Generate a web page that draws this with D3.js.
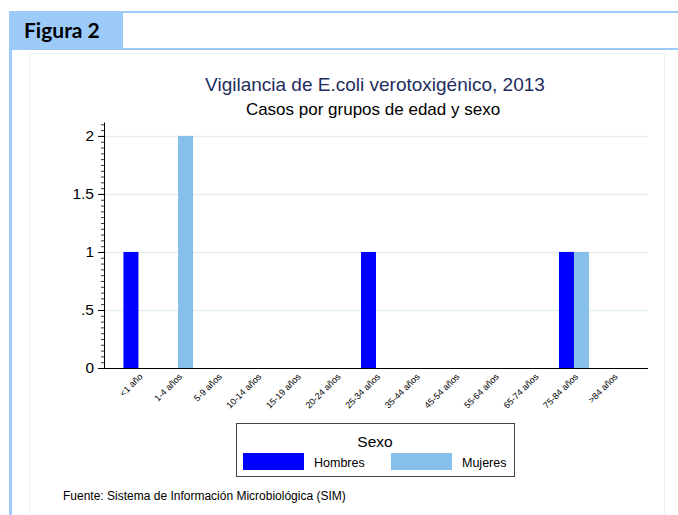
<!DOCTYPE html>
<html>
<head>
<meta charset="utf-8">
<script src="https://cdn.jsdelivr.net/npm/d3@7"></script>
<style>
  body { margin: 0; background: #fff; }
  svg { display: block; font-family: "Liberation Sans", Arial, sans-serif; }
</style>
</head>
<body>
<svg width="678" height="515"></svg>
<script>
// data
var categories = ["<1 año", "1-4 años", "5-9 años", "10-14 años", "15-19 años", "20-24 años",
  "25-34 años", "35-44 años", "45-54 años", "55-64 años", "65-74 años", "75-84 años", ">84 años"];
var series = ["Hombres", "Mujeres"];
var hombres = [1, 0, 0, 0, 0, 0, 1, 0, 0, 0, 0, 1, 0];
var mujeres = [0, 2, 0, 0, 0, 0, 0, 0, 0, 0, 0, 1, 0];
var yTicks = [0, 0.5, 1, 1.5, 2];
var yTickLabels = ["0", ".5", "1", "1.5", "2"];

var colors = { Hombres: "#0000ff", Mujeres: "#86bfea" };
var frameBlue = "#9ccbfa";

var svg = d3.select("svg");

// page frame
svg.append("rect").attr("x", 9).attr("y", 11).attr("width", 114).attr("height", 38).attr("fill", frameBlue);
svg.append("rect").attr("x", 9).attr("y", 11).attr("width", 669).attr("height", 2).attr("fill", frameBlue);
svg.append("rect").attr("x", 9).attr("y", 48).attr("width", 669).attr("height", 2).attr("fill", frameBlue);
svg.append("rect").attr("x", 9).attr("y", 11).attr("width", 3).attr("height", 504).attr("fill", frameBlue);
svg.append("text")
  .attr("x", 24).attr("y", 38)
  .style("font-family", "Lato, 'Open Sans', sans-serif")
  .style("font-weight", "bold")
  .style("font-size", "21px")
  .attr("fill", "#000")
  .text("Figura 2");

// inner panel
svg.append("rect")
  .attr("x", 29.5).attr("y", 53.5).attr("width", 635).attr("height", 470)
  .attr("fill", "#fff").attr("stroke", "#eef2f2");

// titles
svg.append("text").attr("x", 375).attr("y", 91).attr("text-anchor", "middle")
  .style("font-size", "19px").attr("fill", "#1e2d5c")
  .text("Vigilancia de E.coli verotoxigénico, 2013");
svg.append("text").attr("x", 373).attr("y", 115).attr("text-anchor", "middle")
  .style("font-size", "17px").attr("fill", "#000")
  .text("Casos por grupos de edad y sexo");

var plotLeft = 104, plotRight = 648, plotBottom = 368, plotTop = 122;

var x = d3.scalePoint().domain(categories).range([plotLeft, plotRight]).padding(0.87);
var x1 = d3.scaleBand().domain(series).range([-15, 15]);
var y = d3.scaleLinear().domain([0, 2.12]).range([plotBottom, plotTop]);

// grid
svg.append("g")
  .selectAll("line")
  .data(yTicks.slice(1))
  .enter().append("line")
  .attr("x1", plotLeft).attr("x2", plotRight)
  .attr("y1", function(d) { return y(d) + 0.5; })
  .attr("y2", function(d) { return y(d) + 0.5; })
  .attr("stroke", "#e4eef0").attr("stroke-width", 1.5);

// bars
var rows = categories.map(function(c, i) {
  return { cat: c, values: [{ key: "Hombres", v: hombres[i] }, { key: "Mujeres", v: mujeres[i] }] };
});

svg.append("g")
  .selectAll("g")
  .data(rows)
  .enter().append("g")
  .attr("transform", function(d) { return "translate(" + x(d.cat) + ",0)"; })
  .selectAll("rect")
  .data(function(d) { return d.values.filter(function(e) { return e.v > 0; }); })
  .enter().append("rect")
  .attr("x", function(d) { return x1(d.key); })
  .attr("width", x1.bandwidth())
  .attr("y", function(d) { return y(d.v); })
  .attr("height", function(d) { return y(0) - y(d.v); })
  .attr("fill", function(d) { return colors[d.key]; });

// y axis: minor then major ticks
svg.append("g")
  .attr("transform", "translate(" + plotLeft + ",0)")
  .call(d3.axisLeft(y).tickValues(d3.range(0, 2.11, 0.05)).tickSize(3).tickFormat(""))
  .call(function(g) { g.select(".domain").remove(); })
  .selectAll("line").attr("stroke", "#333");

var yAxis = svg.append("g")
  .attr("transform", "translate(" + plotLeft + ",0)")
  .call(d3.axisLeft(y).tickValues(yTicks)
    .tickFormat(function(d, i) { return yTickLabels[i]; })
    .tickSize(6).tickSizeOuter(0).tickPadding(4));
yAxis.selectAll("text").style("font-size", "15.5px").attr("fill", "#000").style("font-family", "'Liberation Sans', Arial, sans-serif");
yAxis.select(".domain").attr("stroke", "#000");

// x axis
var xAxis = svg.append("g")
  .attr("transform", "translate(0," + plotBottom + ")")
  .call(d3.axisBottom(x).tickSize(0).tickSizeOuter(0).tickPadding(0));
xAxis.select(".domain").attr("d", "M" + plotLeft + ",0.5H" + plotRight).attr("stroke", "#000");
xAxis.selectAll("text")
  .attr("y", 0).attr("dy", "0.35em")
  .attr("text-anchor", "end")
  .attr("transform", "translate(2,7) rotate(-45)")
  .style("font-size", "9px").attr("fill", "#000")
  .style("font-family", "'Liberation Sans', Arial, sans-serif");

// legend
var legend = svg.append("g");
legend.append("rect").attr("x", 236.5).attr("y", 423.5).attr("width", 278).attr("height", 53)
  .attr("fill", "#fff").attr("stroke", "#444");
legend.append("text").attr("x", 375).attr("y", 447).attr("text-anchor", "middle")
  .style("font-size", "15.5px").text("Sexo");
var lx = [243, 391];
series.forEach(function(s, i) {
  legend.append("rect").attr("x", lx[i]).attr("y", 453).attr("width", 61).attr("height", 17)
    .attr("fill", colors[s]);
  legend.append("text").attr("x", lx[i] + 71).attr("y", 467)
    .style("font-size", "12.5px").text(s);
});

// source
svg.append("text").attr("x", 63).attr("y", 500)
  .style("font-size", "12px").attr("fill", "#000")
  .text("Fuente: Sistema de Información Microbiológica (SIM)");
</script>
</body>
</html>
